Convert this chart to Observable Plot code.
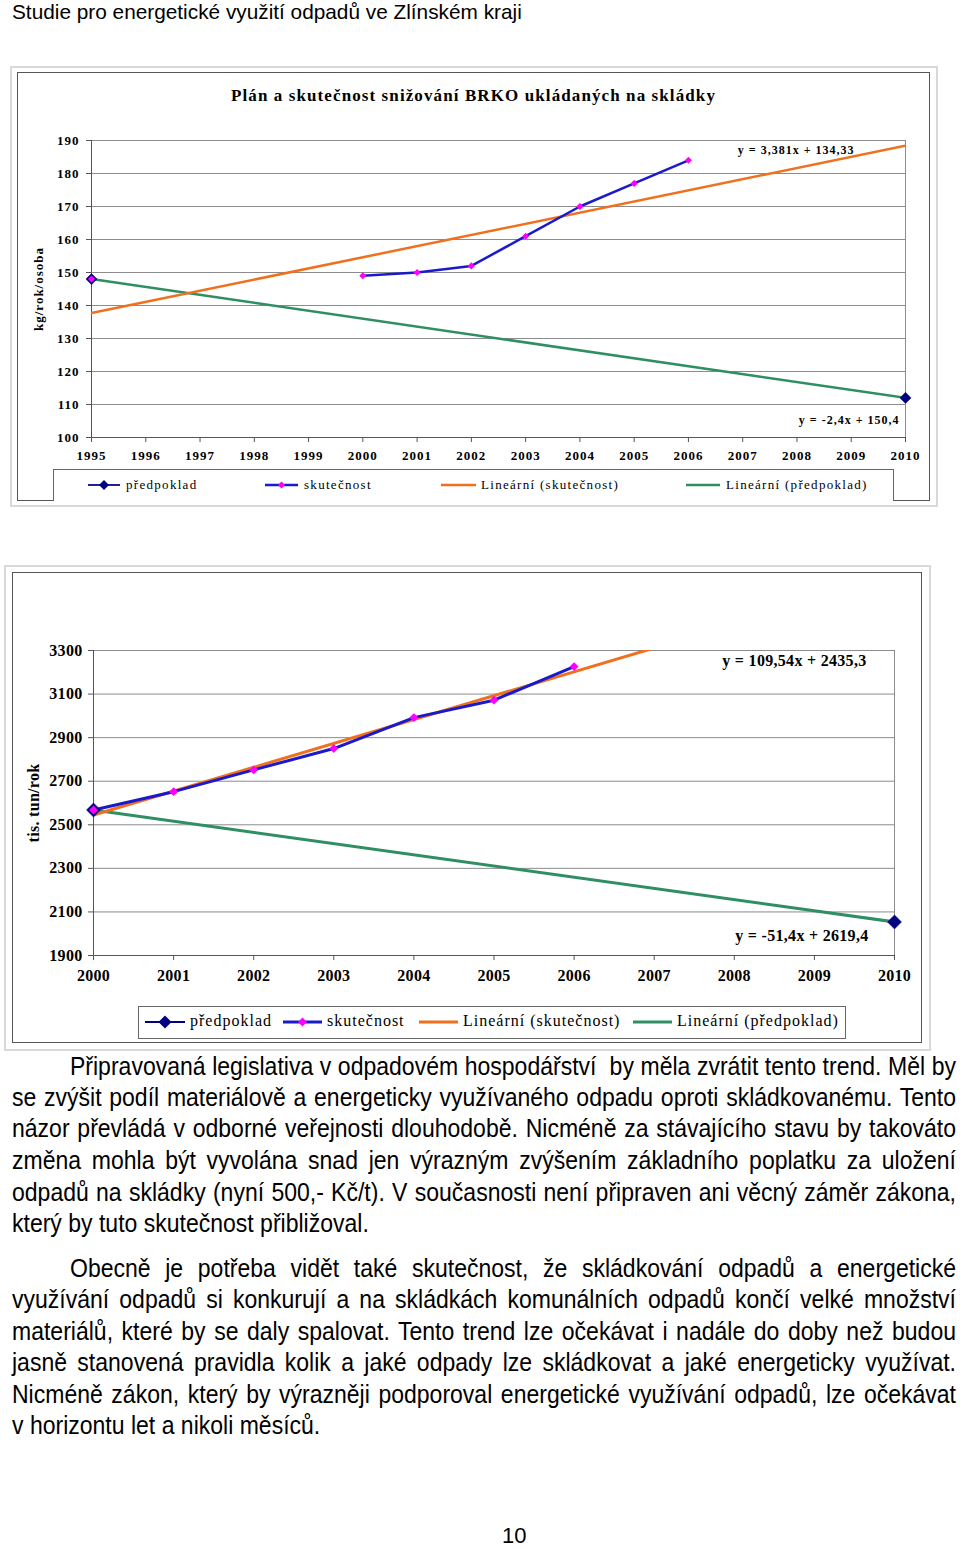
<!DOCTYPE html>
<html><head><meta charset="utf-8">
<script src="https://cdn.jsdelivr.net/npm/d3@7"></script>
<script src="https://cdn.jsdelivr.net/npm/@observablehq/plot@0.6"></script>
<style>
body{margin:0;background:#fff;}
#page{position:relative;width:960px;height:1548px;overflow:hidden;background:#fff;color:#000;font-family:"Liberation Sans",Arial,sans-serif;}
.abs{position:absolute;}
.outer{position:absolute;border:2px solid #d9d9d9;box-sizing:border-box;}
.inner{position:absolute;border:1px solid #555;box-sizing:border-box;background:#fff;}
.title{position:absolute;font-family:"Liberation Serif","Times New Roman",serif;font-weight:bold;white-space:nowrap;text-align:center;}
.legbox{position:absolute;border:1px solid #666;border-bottom:none;box-sizing:border-box;background:#fff;}
.legtext{position:absolute;font-family:"Liberation Serif","Times New Roman",serif;white-space:nowrap;}
.ln{position:absolute;white-space:pre;transform-origin:0 50%;font-size:26px;}
</style></head><body><div id="page">
<div class="abs" style="left:12px;top:0px;font-size:20.8px;line-height:24px;white-space:nowrap;">Studie pro energetické využití odpadů ve Zlínském kraji</div>
</div>
<script>
// ---------- DATA ----------
const years1 = [1995,1996,1997,1998,1999,2000,2001,2002,2003,2004,2005,2006,2007,2008,2009,2010];
const predpoklad1 = [148,null,null,null,null,null,null,null,null,null,null,null,null,null,null,112];
const skutecnost1 = [148,null,null,null,null,149,150,152,161,170,177,184,null,null,null,null];
const yTicks1 = [100,110,120,130,140,150,160,170,180,190];
const trendSlopes1 = [3.381, -2.4];        // skutečnost, předpoklad
const trendIntercepts1 = [134.33, 150.4];
const eqLabels1 = ["y = 3,381x + 134,33", "y = -2,4x + 150,4"];

const years2 = [2000,2001,2002,2003,2004,2005,2006,2007,2008,2009,2010];
const predpoklad2 = [2568,null,null,null,null,null,null,null,null,null,2054];
const skutecnost2 = [2568,2652,2752,2850,2992,3072,3226,null,null,null,null];
const yTicks2 = [1900,2100,2300,2500,2700,2900,3100,3300];
const trendSlopes2 = [109.54, -51.4];
const trendIntercepts2 = [2435.3, 2619.4];
const eqLabels2 = ["y = 109,54x + 2435,3", "y = -51,4x + 2619,4"];

const seriesNames = ["předpoklad", "skutečnost", "Lineární (skutečnost)", "Lineární (předpoklad)"];
const chartTitle1 = "Plán a skutečnost snižování BRKO ukládaných na skládky";
const yLabel1 = "kg/rok/osoba";
const yLabel2 = "tis. tun/rok";

const para1 = [
 "Připravovaná legislativa v odpadovém hospodářství  by měla zvrátit tento trend. Měl by",
 "se zvýšit podíl materiálově a energeticky využívaného odpadu oproti skládkovanému. Tento",
 "názor převládá v odborné veřejnosti dlouhodobě. Nicméně za stávajícího stavu by takováto",
 "změna mohla být vyvolána snad jen výrazným zvýšením základního poplatku za uložení",
 "odpadů na skládky (nyní 500,- Kč/t). V současnosti není připraven ani věcný záměr zákona,",
 "který by tuto skutečnost přibližoval."
];
const para2 = [
 "Obecně je potřeba vidět také skutečnost, že skládkování odpadů a energetické",
 "využívání odpadů si konkurují a na skládkách komunálních odpadů končí velké množství",
 "materiálů, které by se daly spalovat. Tento trend lze očekávat i nadále do doby než budou",
 "jasně stanovená pravidla kolik a jaké odpady lze skládkovat a jaké energeticky využívat.",
 "Nicméně zákon, který by výrazněji podporoval energetické využívání odpadů, lze očekávat",
 "v horizontu let a nikoli měsíců."
];
const pageNumber = "10";

// ---------- STYLE ----------
const NAVY = "#000080", MAGENTA = "#ff00ff", BLUE = "#1a1acc", ORANGE = "#f0701e", GREEN = "#2f8f62";
const SERIF = "'Liberation Serif','Times New Roman',serif";
const page = document.getElementById("page");

function el(html) { const d = document.createElement("div"); d.innerHTML = html; const e = d.firstElementChild; page.appendChild(e); return e; }

function trendRows(years, slope, intercept) {
  return [0, years.length - 1].map(i => ({year: years[i], v: slope * (i + 1) + intercept}));
}

function makeChart(c) {
  const rows = c.years.map((y, i) => ({year: y, pred: c.pred[i], skut: c.skut[i]}));
  const tS = trendRows(c.years, c.slopes[0], c.intercepts[0]);
  const tP = trendRows(c.years, c.slopes[1], c.intercepts[1]);
  const svg = Plot.plot({
    width: 960, height: c.height,
    marginLeft: c.ml, marginRight: c.mr, marginTop: c.mt, marginBottom: c.mb,
    x: {type: "linear", domain: [c.years[0], c.years[c.years.length - 1]]},
    y: {domain: [c.yTicks[0], c.yTicks[c.yTicks.length - 1]]},
    style: {fontFamily: SERIF, fontSize: c.fs + "px", fontWeight: "bold", letterSpacing: c.ls + "px", background: "transparent", overflow: "visible", color: "#000"},
    marks: [
      Plot.gridY(c.yTicks, {stroke: "#8c8c8c", strokeOpacity: 1}),
      Plot.frame({stroke: "#8c8c8c"}),
      Plot.ruleX([c.years[0]], {stroke: "#555"}),
      Plot.ruleY([c.yTicks[0]], {stroke: "#555"}),
      Plot.axisY(c.yTicks, {tickSize: 5, tickPadding: c.yPad, stroke: "#555", fill: "#000", label: null, tickFormat: d => String(d)}),
      Plot.axisX(c.years, {tickSize: 5, tickPadding: c.xPad, stroke: "#555", fill: "#000", label: null, tickFormat: d => String(d)}),
      Plot.line(tP, {x: "year", y: "v", stroke: GREEN, strokeWidth: c.lw, clip: true}),
      Plot.line(tS, {x: "year", y: "v", stroke: ORANGE, strokeWidth: c.lw, clip: true}),
      Plot.line(rows, {x: "year", y: "skut", stroke: BLUE, strokeWidth: c.lw}),
      Plot.dot(rows, {x: "year", y: "pred", symbol: "diamond2", r: c.rPred, fill: NAVY, stroke: NAVY, strokeWidth: 0.5}),
      Plot.dot(rows, {x: "year", y: "skut", symbol: "diamond2", r: c.rSkut, fill: MAGENTA, stroke: "none"}),
      Plot.text([c.eqs[0]], {text: d => d, frameAnchor: "top-right", dx: c.eq1[0], dy: c.eq1[1], textAnchor: "end", lineAnchor: "middle", fontSize: c.eqFs}),
      Plot.text([c.eqs[1]], {text: d => d, frameAnchor: "bottom-right", dx: c.eq2[0], dy: c.eq2[1], textAnchor: "end", lineAnchor: "middle", fontSize: c.eqFs}),
      Plot.text([c.yLabel], {text: d => d, frameAnchor: "left", rotate: -90, dx: -c.yLabOff, textAnchor: "middle", lineAnchor: "middle", fontSize: c.yLabFs, letterSpacing: 0})
    ]
  });
  svg.style.position = "absolute";
  svg.style.left = "0px";
  svg.style.top = c.top + "px";
  return svg;
}

function swatch(kind, w, lw, r1, r2) {
  const h = 16, cy = 8, cx = w / 2;
  const d2 = (r) => `M${cx},${cy - r}L${cx + r},${cy}L${cx},${cy + r}L${cx - r},${cy}Z`;
  let s = `<svg width="${w}" height="${h}" style="position:absolute;overflow:visible">`;
  if (kind === 0) s += `<line x1="0" x2="${w}" y1="${cy}" y2="${cy}" stroke="${NAVY}" stroke-width="${lw * 0.7}"/><path d="${d2(r1)}" fill="${NAVY}"/>`;
  if (kind === 1) s += `<line x1="0" x2="${w}" y1="${cy}" y2="${cy}" stroke="${BLUE}" stroke-width="${lw}"/><path d="${d2(r2)}" fill="${MAGENTA}"/>`;
  if (kind === 2) s += `<line x1="0" x2="${w}" y1="${cy}" y2="${cy}" stroke="${ORANGE}" stroke-width="${lw}"/>`;
  if (kind === 3) s += `<line x1="0" x2="${w}" y1="${cy}" y2="${cy}" stroke="${GREEN}" stroke-width="${lw}"/>`;
  return s + "</svg>";
}

// ---------- CHART 1 ----------
el(`<div class="outer" style="left:10px;top:66px;width:928px;height:441px"></div>`);
el(`<div class="inner" style="left:17px;top:72px;width:913px;height:429px"></div>`);
el(`<div class="title" style="left:17px;width:913px;top:86px;font-size:17px;line-height:20px;letter-spacing:1.1px">${chartTitle1}</div>`);
page.appendChild(makeChart({
  years: years1, pred: predpoklad1, skut: skutecnost1, yTicks: yTicks1,
  slopes: trendSlopes1, intercepts: trendIntercepts1, eqs: eqLabels1,
  height: 360, top: 120, ml: 91, mr: 55, mt: 20, mb: 43,
  fs: 13, ls: 1, yPad: 7, xPad: 8, lw: 2.5, rPred: 5, rSkut: 3.2,
  eq1: [-51, 10], eq2: [-6, -17], eqFs: 12, yLabel: yLabel1, yLabOff: 53, yLabFs: 13
}));
el(`<div class="legbox" style="left:53px;top:469px;width:841px;height:32px"></div>`);
const leg1 = [[88, 32, 126], [265, 33, 304], [441, 35, 481], [686, 34, 726]];
leg1.forEach(([sx, sw, tx], i) => {
  el(`<div class="abs" style="left:${sx}px;top:477px">${swatch(i, sw, 2.5, 5, 3.5)}</div>`);
  el(`<div class="legtext" style="left:${tx}px;top:476px;font-size:13px;line-height:18px;letter-spacing:1.3px">${seriesNames[i]}</div>`);
});

// ---------- CHART 2 ----------
el(`<div class="outer" style="left:4px;top:565px;width:927px;height:486px"></div>`);
el(`<div class="inner" style="left:12px;top:572px;width:910px;height:471px"></div>`);
page.appendChild(makeChart({
  years: years2, pred: predpoklad2, skut: skutecnost2, yTicks: yTicks2,
  slopes: trendSlopes2, intercepts: trendIntercepts2, eqs: eqLabels2,
  height: 370, top: 630, ml: 93, mr: 66, mt: 20, mb: 45,
  fs: 16, ls: 0.3, yPad: 6, xPad: 9, lw: 3, rPred: 6.3, rSkut: 4,
  eq1: [-28, 10], eq2: [-26, -20], eqFs: 16, yLabel: yLabel2, yLabOff: 60, yLabFs: 16
}));
el(`<div class="legbox" style="left:138px;top:1006px;width:708px;height:33px;border-bottom:1px solid #666"></div>`);
const leg2 = [[145, 40, 190], [283, 39, 327], [419, 39, 463], [633, 39, 677]];
leg2.forEach(([sx, sw, tx], i) => {
  el(`<div class="abs" style="left:${sx}px;top:1014px">${swatch(i, sw, 3, 6.5, 4.5)}</div>`);
  el(`<div class="legtext" style="left:${tx}px;top:1011px;font-size:16px;line-height:20px;letter-spacing:1px">${seriesNames[i]}</div>`);
});

// ---------- BODY TEXT ----------
const SCALE = 0.885, LEFT = 12, RIGHT = 956, INDENT = 58;
function addPara(lines, centers) {
  lines.forEach((t, i) => {
    const x = LEFT + (i === 0 ? INDENT : 0);
    const target = RIGHT - x;
    const d = el(`<div class="ln" style="left:${x}px;top:${centers[i] - 16}px;line-height:32px"></div>`);
    d.textContent = t;
    d.style.transform = `scaleX(${SCALE})`;
    if (i < lines.length - 1) {
      const w = d.getBoundingClientRect().width;
      const n = (t.match(/ /g) || []).length;
      if (w <= target) d.style.wordSpacing = ((target - w) / n / SCALE) + "px";
      else d.style.transform = `scaleX(${SCALE * target / w})`;
    }
  });
}
addPara(para1, [1066, 1097, 1128, 1160, 1192, 1223]);
addPara(para2, [1268, 1299, 1331, 1362, 1394, 1425]);
const pn = el(`<div class="abs" style="left:502px;top:1526px;width:24px;text-align:center;font-size:22px;line-height:20px;white-space:nowrap"></div>`);
pn.textContent = pageNumber;
</script>
</body></html>
